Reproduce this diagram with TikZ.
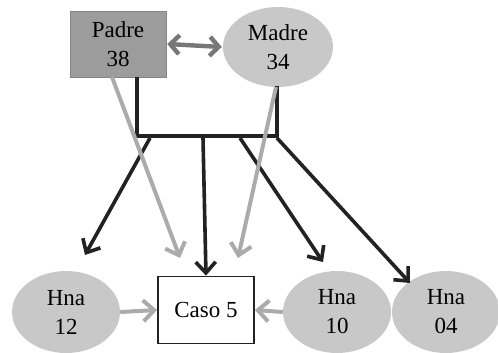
\documentclass[tikz,border=0pt]{standalone}
\usepackage{fontspec}
\setmainfont{Liberation Serif}
\usetikzlibrary{arrows.meta,shapes.geometric}
\definecolor{dkgray}{HTML}{9C9C9C}
\definecolor{ltgray}{HTML}{C8C8C8}
\definecolor{midarrow}{HTML}{777777}
\definecolor{lightarrow}{HTML}{ABABAB}
\definecolor{blk}{HTML}{222222}
\begin{document}
\begin{tikzpicture}[x=1pt,y=-1pt,
  txt/.style={font=\fontsize{23}{29}\selectfont, align=center, inner sep=0pt},
  person/.style={txt, ellipse, fill=ltgray, minimum width=108pt, minimum height=82pt},
  pbox/.style={txt, rectangle, fill=dkgray, draw=dkgray!85!black, line width=0.5pt, minimum width=96pt, minimum height=66pt},
  cbox/.style={txt, rectangle, fill=white, draw=blk, line width=1.8pt, minimum width=96pt, minimum height=67pt},
  blackline/.style={draw=blk, line width=3.8pt},
  blackarrow/.style={draw=blk, line width=3.6pt, -{Straight Barb[length=11pt,width=20pt,line width=3.6pt]}},
  grayarrow/.style={draw=lightarrow, line width=4pt, -{Straight Barb[length=11pt,width=21pt,line width=4pt]}},
  dblarrow/.style={draw=midarrow, line width=4.4pt, {Straight Barb[length=9pt,width=19pt,line width=4.4pt]}-{Straight Barb[length=9pt,width=19pt,line width=4.4pt]}}
]
\useasboundingbox (0,0) rectangle (498,353);
\node[pbox] (padre) at (118,44) {Padre\\38};
\node[person, minimum width=110pt, minimum height=80pt] (madre) at (278,47) {Madre\\34};
\node[cbox] (caso) at (206,310) {Caso 5};
\node[person] (h12) at (66,312) {Hna\\12};
\node[person] (h10) at (337,312) {Hna\\10};
\node[person] (h04) at (446,312) {Hna\\04};

\coordinate (pl) at (137,77);
\coordinate (ml) at (277,86);
\coordinate (bl) at (137,136);
\coordinate (br) at (277,136);
\coordinate (s1) at (150,138);
\coordinate (s2) at (203,138);
\coordinate (s3) at (240,138);
\coordinate (s4) at (277,138);
\coordinate (t12) at (85,255);
\coordinate (t10) at (323,262);
\coordinate (t04) at (410,283);
\coordinate (gp) at (112,77);
\coordinate (gm) at (276,87);
\coordinate (gpt) at (180,258);
\coordinate (gmt) at (238,258);

\draw[dblarrow] ([xshift=1pt]padre.east) -- ([xshift=-1pt]madre.west);
\draw[blackline] (pl) -- (bl) -- (br) -- (ml);
\draw[blackarrow] (s1) -- (t12);
\draw[blackarrow] (s2) -- (caso.north);
\draw[blackarrow] (s3) -- (t10);
\draw[blackarrow] (s4) -- (t04);
\draw[grayarrow] (gp) -- (gpt);
\draw[grayarrow] (gm) -- (gmt);
\draw[grayarrow] (h12.east) -- (caso.west);
\draw[grayarrow] (h10.west) -- (caso.east);
\end{tikzpicture}
\end{document}
